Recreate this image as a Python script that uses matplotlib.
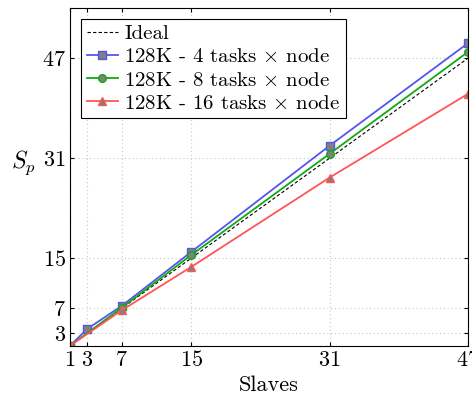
import matplotlib
matplotlib.use("Agg")
import matplotlib.pyplot as plt

plt.rcParams['font.family'] = ['cmr10', 'DejaVu Serif']
plt.rcParams['mathtext.fontset'] = 'cm'
plt.rcParams['axes.formatter.use_mathtext'] = True

ideal_x = [1, 47]
ideal_y = [1, 47]
x4 = [1, 3, 7, 15, 31, 47]
y4 = [1, 3.7, 7.4, 16.0, 33.0, 49.4]
x8 = [1, 7, 15, 31, 47]
y8 = [1, 7.1, 15.5, 31.7, 48.0]
x16 = [1, 7, 15, 31, 47]
y16 = [1, 6.7, 13.6, 27.9, 41.3]
xticks = [1, 3, 7, 15, 31, 47]
yticks = [3, 7, 15, 31, 47]
labels = ['Ideal', r'128K - 4 tasks $\times$ node', r'128K - 8 tasks $\times$ node', r'128K - 16 tasks $\times$ node']

fig = plt.figure(figsize=(4.72, 3.98), dpi=100)
ax = fig.add_axes([0.148, 0.131, 0.844, 0.849])

ax.plot(ideal_x, ideal_y, linestyle=(0, (3, 2)), color='black', lw=0.8, label=labels[0])
ax.plot(x4, y4, color='#5555ee', lw=1.3, marker='s', ms=5.5, mfc='#808080', mec='#5555ee', mew=1, label=labels[1])
ax.plot(x8, y8, color='#11aa11', lw=1.3, marker='o', ms=5.5, mfc='#808080', mec='#11aa11', mew=1, label=labels[2])
ax.plot(x16, y16, color='#ff5555', lw=1.3, marker='^', ms=5.5, mfc='#808080', mec='#ff5555', mew=1, label=labels[3])

ax.set_xlim(1, 47)
ax.set_ylim(1, 55)
ax.set_xticks(xticks)
ax.set_yticks(yticks)
ax.tick_params(direction='in', top=True, right=True, labelsize=16, length=3, pad=3)
ax.grid(True, linestyle=(0, (1, 2.5)), color='#c8c8c8', lw=0.8)
ax.set_xlabel('Slaves', fontsize=16, labelpad=4)
ax.set_ylabel(r'$S_p$', fontsize=17, rotation=0, labelpad=13)
for s in ax.spines.values():
    s.set_linewidth(0.8)

leg = ax.legend(loc='upper left', fontsize=15, fancybox=False, framealpha=1, edgecolor='black',
                handlelength=1.5, handletextpad=0.3, borderpad=0.25, labelspacing=0.22,
                borderaxespad=0.55)
leg.get_frame().set_linewidth(0.8)

fig.savefig('out.png', dpi=100)
